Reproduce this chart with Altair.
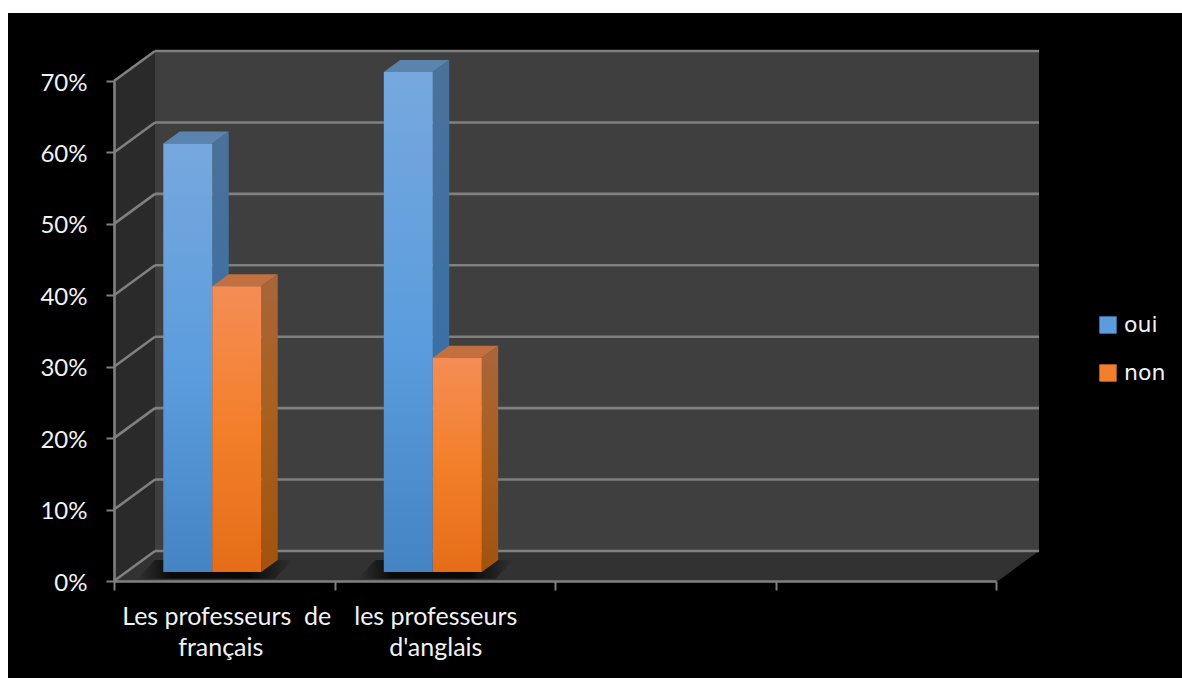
import altair as alt
import pandas as pd

# Survey results per group of teachers
categories = ["Les professeurs de français", "les professeurs d'anglais"]
label_lines = [["Les professeurs\u00a0 de", "français"], ["les professeurs", "d'anglais"]]
series_names = ["oui", "non"]
oui_values = [0.60, 0.70]
non_values = [0.40, 0.30]
y_ticks = [0, 0.1, 0.2, 0.3, 0.4, 0.5, 0.6, 0.7]
x_ticks = [0, 1, 2, 3, 4]

# Oblique projection of the 3-D box, in axis units
PX_X = 882 / 4          # pixels per category
PX_Y = 500 / 0.7        # pixels per unit of share
DEPTH_X = 41 / PX_X
DEPTH_Y = 30 / PX_Y
BAR_D0, BAR_D1 = 0.3, 0.7
BAR_LEFT = 37 / PX_X
BAR_W = 49 / PX_X
X_END = 4 + 2 / PX_X    # the box runs slightly past the last tick

x_scale = alt.Scale(domain=[0, 4], nice=False, zero=False)
y_scale = alt.Scale(domain=[0, 0.7], nice=False, zero=False)
X = lambda f="x": alt.X(f"{f}:Q", scale=x_scale)
Y = lambda f="y": alt.Y(f"{f}:Q", scale=y_scale)
X2 = lambda f="x2": alt.X2(f"{f}:Q")
Y2 = lambda f="y2": alt.Y2(f"{f}:Q")


def gradient(stops, x2=0, y2=1):
    return alt.Gradient(
        gradient="linear", x1=0, y1=0, x2=x2, y2=y2,
        stops=[alt.GradientStop(offset=o, color=c) for o, c in stops],
    )


GRID = "#808080"
FILLS = {
    "oui": {
        "front": gradient([(0, "#76a8de"), (0.55, "#5a9cdd"), (1, "#4584c3")]),
        "side": gradient([(0, "#4b7199"), (0.5, "#3d70a5"), (1, "#366a9f")]),
        "top": "#5a83ae",
    },
    "non": {
        "front": gradient([(0, "#f48d55"), (0.5, "#f37f2a"), (1, "#e56d18")]),
        "side": gradient([(0, "#a9653c"), (0.5, "#a95f1c"), (1, "#a3520f")]),
        "top": "#c2703f",
    },
}

# Page and chamber surfaces
page = (
    alt.Chart(pd.DataFrame({"a": [0]}))
    .mark_rect(color="#000000")
    .encode(x=alt.value(-106), x2=alt.value(1068), y=alt.value(-68), y2=alt.value(597))
)

back_wall = (
    alt.Chart(pd.DataFrame({"x": [DEPTH_X], "x2": [X_END + DEPTH_X], "y": [DEPTH_Y], "y2": [0.7 + DEPTH_Y]}))
    .mark_rect(color="#3f3f3f")
    .encode(x=X(), x2=X2(), y=Y(), y2=Y2())
)
side_wall = (
    alt.Chart(pd.DataFrame({"x": [0, DEPTH_X], "y": [0, DEPTH_Y], "y2": [0.7, 0.7 + DEPTH_Y]}))
    .mark_area(color="#2a2a2a", orient="vertical")
    .encode(x=X(), y=Y(), y2=Y2())
)
floor = (
    alt.Chart(pd.DataFrame({"y": [0, DEPTH_Y], "x": [0, DEPTH_X], "x2": [X_END, X_END + DEPTH_X]}))
    .mark_area(color="#323232", orient="horizontal")
    .encode(y=Y(), x=X(), x2=X2())
)

# Gridlines across the back wall and along the side wall
ticks = pd.Series(y_ticks)
grid_back = (
    alt.Chart(pd.DataFrame({"x": DEPTH_X, "x2": X_END + DEPTH_X, "y": ticks + DEPTH_Y}))
    .mark_rule(color=GRID, strokeWidth=2.6)
    .encode(x=X(), x2=X2(), y=Y())
)
grid_side = (
    alt.Chart(pd.DataFrame({"x": 0.0, "x2": DEPTH_X, "y": ticks, "y2": ticks + DEPTH_Y}))
    .mark_rule(color=GRID, strokeWidth=2.6)
    .encode(x=X(), x2=X2(), y=Y(), y2=Y2())
)

# Soft contact shadow on the floor around each pair of bars
shadow_rows = []
for i in range(len(categories)):
    left = i + BAR_LEFT
    right = i + BAR_LEFT + 2 * BAR_W
    shadow_rows += [
        {"k": i, "y": 0.003, "x": left - 14 / PX_X, "x2": right + 26 / PX_X},
        {"k": i, "y": BAR_D1 * DEPTH_Y, "x": left + 4 / PX_X, "x2": right + 44 / PX_X},
    ]
shadow = (
    alt.Chart(pd.DataFrame(shadow_rows))
    .mark_area(
        orient="horizontal",
        color=gradient(
            [(0, "rgba(0,0,0,0)"), (0.22, "rgba(0,0,0,0.8)"), (0.72, "rgba(0,0,0,0.85)"), (1, "rgba(0,0,0,0)")],
            x2=1, y2=0,
        ),
    )
    .encode(y=Y(), x=X(), x2=X2(), detail="k:N")
)


def bar_layers(name, values, slot):
    """Front, side and top faces of one series' bars."""
    lefts = [i + BAR_LEFT + slot * BAR_W for i in range(len(values))]
    side_rows, top_rows, front_rows = [], [], []
    for i, (x0, v) in enumerate(zip(lefts, values)):
        x1 = x0 + BAR_W
        front_rows.append({"x": x0 + BAR_D0 * DEPTH_X, "x2": x1 + BAR_D0 * DEPTH_X,
                           "y": BAR_D0 * DEPTH_Y, "y2": v + BAR_D0 * DEPTH_Y})
        for d in (BAR_D0, BAR_D1):
            side_rows.append({"k": i, "x": x1 + d * DEPTH_X, "y": d * DEPTH_Y, "y2": v + d * DEPTH_Y})
            top_rows.append({"k": i, "y": v + d * DEPTH_Y, "x": x0 + d * DEPTH_X, "x2": x1 + d * DEPTH_X})
    fills = FILLS[name]
    side = (
        alt.Chart(pd.DataFrame(side_rows))
        .mark_area(color=fills["side"], orient="vertical")
        .encode(x=X(), y=Y(), y2=Y2(), detail="k:N")
    )
    top = (
        alt.Chart(pd.DataFrame(top_rows))
        .mark_area(color=fills["top"], orient="horizontal")
        .encode(y=Y(), x=X(), x2=X2(), detail="k:N")
    )
    front = (
        alt.Chart(pd.DataFrame(front_rows))
        .mark_rect(color=fills["front"])
        .encode(x=X(), x2=X2(), y=Y(), y2=Y2())
    )
    return [side, top, front]


# Real axes, drawn over the chamber
AXIS_FONT = "Lato"
axes = (
    alt.Chart(pd.DataFrame({"x": [0.0], "y": [0.0]}))
    .mark_point(opacity=0)
    .encode(
        x=alt.X("x:Q", scale=x_scale, title=None, axis=alt.Axis(
            values=x_ticks, labels=False, grid=False, domainColor=GRID, domainWidth=2.6,
            tickColor=GRID, tickWidth=2, tickSize=9, zindex=1, title=None)),
        y=alt.Y("y:Q", scale=y_scale, title=None, axis=alt.Axis(
            values=y_ticks, format=".0%", grid=False, domainColor=GRID, domainWidth=2.6,
            tickColor=GRID, tickWidth=2, tickSize=8, labelPadding=19, labelFont=AXIS_FONT,
            labelFontSize=24, labelOffset=2, labelColor="#f2f2f2", zindex=1, title=None)),
    )
)

# Two-line category captions, one row per line
NUDGE_PX = [[2.5, -3.5], [-9, -9]]
LINE_Y_PX = [-36, -67]
text_rows = []
for i, lines in enumerate(label_lines):
    for j, line in enumerate(lines):
        text_rows.append({"x": i + 0.5 + NUDGE_PX[i][j] / PX_X, "y": LINE_Y_PX[j] / PX_Y, "t": line})
captions = (
    alt.Chart(pd.DataFrame(text_rows))
    .mark_text(font=AXIS_FONT, fontSize=25, color="#f2f2f2", align="center", baseline="middle")
    .encode(x=X(), y=Y(), text="t:N")
)

# Legend keys come from an empty point layer so the faces can keep their gradients
legend_layer = (
    alt.Chart(pd.DataFrame({"s": series_names, "x": [0.0, 0.0], "y": [0.0, 0.0]}))
    .mark_square(size=0, filled=True, opacity=1)
    .encode(
        x=X(), y=Y(),
        color=alt.Color(
            "s:N",
            scale=alt.Scale(domain=series_names, range=["#5a9cdd", "#f37f2a"]),
            legend=alt.Legend(
                title=None, orient="none", legendX=983, legendY=233, symbolType="square",
                symbolSize=300, symbolStrokeWidth=0, labelFont="DejaVu Sans", labelFontSize=22,
                labelColor="#f2f2f2", rowPadding=26, labelOffset=5, zindex=1,
            ),
        ),
    )
)

layers = [axes, page, back_wall, side_wall, floor, grid_back, grid_side, shadow]
layers += bar_layers("oui", oui_values, 0)
layers += bar_layers("non", non_values, 1)
layers += [captions, legend_layer]

chart = (
    alt.layer(*layers)
    .resolve_scale(x="shared", y="shared")
    .properties(
        width=882, height=500, autosize="none", background="#ffffff",
        padding={"left": 114, "top": 81, "right": 186, "bottom": 97},
    )
    .configure_view(stroke=None)
)

chart.save("out.html", embed_options={"renderer": "svg", "actions": False})
